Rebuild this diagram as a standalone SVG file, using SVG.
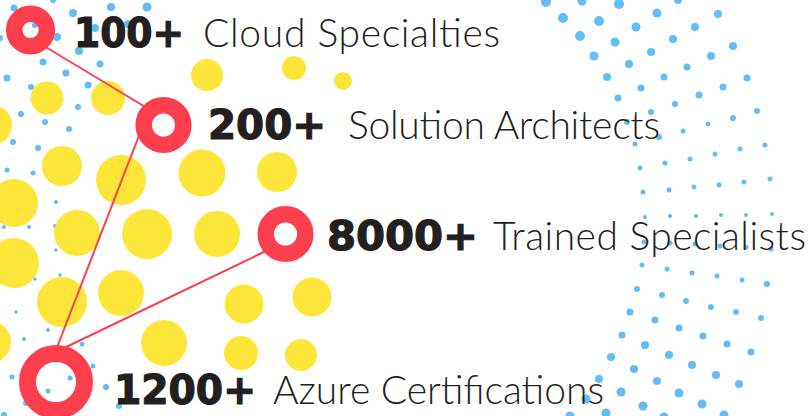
<svg xmlns="http://www.w3.org/2000/svg" width="810" height="416" viewBox="0 0 810 416">
<style>
.b{fill:#62bdf9}
.y{fill:#fee53a}
.ring{fill:none;stroke:#fd3f4d}
.edge{stroke:#fd3f4d;stroke-width:2;fill:none}
.num{font-family:"DejaVu Sans",Lato,sans-serif;font-weight:bold;font-size:40px;fill:#231f20;stroke:#231f20;stroke-width:1.2}
.lbl{font-family:Lato,"Liberation Sans",sans-serif;font-weight:300;font-size:39px;fill:#231f20}
</style>
<rect width="810" height="416" fill="#ffffff"/>
<g id="blue-dots">
<circle class="b" cx="14" cy="8" r="3.5"/><circle class="b" cx="53" cy="0" r="3"/><circle class="b" cx="73" cy="13" r="4"/><circle class="b" cx="111" cy="7" r="4"/><circle class="b" cx="147" cy="7" r="4.5"/><circle class="b" cx="95" cy="28" r="4"/><circle class="b" cx="128" cy="24" r="4"/><circle class="b" cx="57" cy="37" r="4"/><circle class="b" cx="35" cy="25" r="3"/><circle class="b" cx="79" cy="51" r="4"/><circle class="b" cx="43" cy="62" r="3.5"/><circle class="b" cx="100" cy="64" r="3.5"/><circle class="b" cx="7" cy="78" r="3.5"/><circle class="b" cx="66" cy="73" r="3.5"/><circle class="b" cx="31" cy="87" r="3"/><circle class="b" cx="88" cy="85" r="3.5"/><circle class="b" cx="78" cy="107" r="3"/><circle class="b" cx="21" cy="114" r="3"/><circle class="b" cx="45" cy="122" r="3"/><circle class="b" cx="69" cy="129" r="3"/><circle class="b" cx="0" cy="38" r="3"/>
<circle class="b" cx="13" cy="142" r="3"/><circle class="b" cx="38" cy="148" r="3"/><circle class="b" cx="7" cy="170" r="2.5"/><circle class="b" cx="33" cy="173" r="2.5"/><circle class="b" cx="56" cy="202" r="2"/><circle class="b" cx="4" cy="227" r="2"/><circle class="b" cx="29" cy="227" r="2"/><circle class="b" cx="55" cy="226" r="2"/><circle class="b" cx="56" cy="250" r="1.8"/><circle class="b" cx="60" cy="275" r="1.8"/><circle class="b" cx="35" cy="279" r="1.8"/><circle class="b" cx="16" cy="312" r="1.8"/><circle class="b" cx="48" cy="330" r="2"/><circle class="b" cx="24" cy="339" r="2"/><circle class="b" cx="82" cy="344" r="2.5"/><circle class="b" cx="93" cy="366" r="2.5"/><circle class="b" cx="12" cy="377" r="2.5"/><circle class="b" cx="70" cy="378" r="2.5"/><circle class="b" cx="48" cy="391" r="2.5"/><circle class="b" cx="106" cy="387" r="3"/><circle class="b" cx="26" cy="403" r="3"/><circle class="b" cx="119" cy="406" r="3"/><circle class="b" cx="4" cy="415" r="3"/>
<circle class="b" cx="546" cy="2" r="5"/><circle class="b" cx="582" cy="1" r="4.5"/><circle class="b" cx="619" cy="4" r="5"/><circle class="b" cx="678" cy="0" r="4"/><circle class="b" cx="563" cy="18" r="5"/><circle class="b" cx="599" cy="21" r="5"/><circle class="b" cx="657" cy="13" r="4.5"/><circle class="b" cx="718" cy="14" r="4"/><circle class="b" cx="580" cy="36" r="5"/><circle class="b" cx="615" cy="42" r="4.5"/><circle class="b" cx="636" cy="27" r="4.5"/><circle class="b" cx="695" cy="27" r="4"/><circle class="b" cx="673" cy="39" r="4"/><circle class="b" cx="733" cy="46" r="4"/><circle class="b" cx="594" cy="56" r="4.5"/><circle class="b" cx="629" cy="64" r="4"/><circle class="b" cx="651" cy="52" r="4"/><circle class="b" cx="711" cy="56" r="4"/><circle class="b" cx="687" cy="67" r="3.5"/><circle class="b" cx="607" cy="77" r="4"/><circle class="b" cx="641" cy="88" r="3.5"/><circle class="b" cx="664" cy="77" r="3.5"/><circle class="b" cx="723" cy="87" r="3.5"/><circle class="b" cx="747" cy="78" r="3.5"/><circle class="b" cx="699" cy="95" r="3.5"/><circle class="b" cx="618" cy="98" r="3.5"/><circle class="b" cx="675" cy="104" r="3"/><circle class="b" cx="651" cy="112" r="3"/><circle class="b" cx="757" cy="111" r="3"/><circle class="b" cx="733" cy="118" r="3"/><circle class="b" cx="708" cy="124" r="2.5"/><circle class="b" cx="683" cy="131" r="2.5"/><circle class="b" cx="627" cy="122" r="3"/><circle class="b" cx="659" cy="137" r="3"/><circle class="b" cx="765" cy="145" r="2.5"/><circle class="b" cx="740" cy="149" r="2.5"/><circle class="b" cx="715" cy="154" r="2.5"/><circle class="b" cx="690" cy="159" r="2.5"/><circle class="b" cx="665" cy="163" r="2.5"/><circle class="b" cx="635" cy="144" r="2.5"/><circle class="b" cx="640" cy="168" r="2.5"/><circle class="b" cx="770" cy="179" r="2.5"/><circle class="b" cx="744" cy="182" r="2.5"/><circle class="b" cx="719" cy="185" r="2.5"/><circle class="b" cx="694" cy="187" r="2.5"/><circle class="b" cx="669" cy="190" r="2.5"/><circle class="b" cx="643" cy="192" r="2.5"/>
<circle class="b" cx="645" cy="217" r="2"/><circle class="b" cx="670" cy="216" r="2"/><circle class="b" cx="696" cy="216" r="2"/><circle class="b" cx="721" cy="215" r="2"/><circle class="b" cx="746" cy="215" r="2"/><circle class="b" cx="772" cy="214" r="2"/><circle class="b" cx="644" cy="242" r="2.5"/><circle class="b" cx="670" cy="243" r="2.5"/><circle class="b" cx="695" cy="244" r="2.5"/><circle class="b" cx="720" cy="246" r="2.5"/><circle class="b" cx="746" cy="247" r="2.5"/><circle class="b" cx="771" cy="249" r="2.5"/><circle class="b" cx="642" cy="265" r="2.5"/><circle class="b" cx="667" cy="269" r="2.5"/><circle class="b" cx="692" cy="273" r="2.5"/><circle class="b" cx="717" cy="276" r="2.5"/><circle class="b" cx="742" cy="280" r="2.5"/><circle class="b" cx="767" cy="284" r="3"/><circle class="b" cx="637" cy="289" r="3"/><circle class="b" cx="662" cy="295" r="3"/><circle class="b" cx="686" cy="301" r="3"/><circle class="b" cx="711" cy="307" r="3"/><circle class="b" cx="736" cy="312" r="3"/><circle class="b" cx="761" cy="318" r="3"/><circle class="b" cx="630" cy="312" r="3.5"/><circle class="b" cx="655" cy="320" r="3.5"/><circle class="b" cx="679" cy="328" r="3.5"/><circle class="b" cx="703" cy="336" r="3.5"/><circle class="b" cx="727" cy="344" r="3.5"/><circle class="b" cx="751" cy="352" r="3.5"/><circle class="b" cx="622" cy="335" r="3.5"/><circle class="b" cx="645" cy="345" r="4"/><circle class="b" cx="669" cy="355" r="4"/><circle class="b" cx="692" cy="365" r="4"/><circle class="b" cx="716" cy="375" r="4"/><circle class="b" cx="739" cy="384" r="4"/><circle class="b" cx="611" cy="357" r="4"/><circle class="b" cx="634" cy="369" r="4"/><circle class="b" cx="657" cy="381" r="4"/><circle class="b" cx="679" cy="393" r="4.5"/><circle class="b" cx="702" cy="404" r="4.5"/><circle class="b" cx="724" cy="415" r="4.5"/><circle class="b" cx="599" cy="379" r="4"/><circle class="b" cx="621" cy="392" r="4.5"/><circle class="b" cx="643" cy="406" r="4.5"/><circle class="b" cx="664" cy="417" r="4.5"/><circle class="b" cx="586" cy="399" r="4.5"/><circle class="b" cx="606" cy="413" r="4.5"/><circle class="b" cx="570" cy="416" r="4.5"/>
</g>
<g id="yellow-dots">
<circle class="y" cx="47" cy="98" r="16.5"/><circle class="y" cx="108" cy="98" r="17"/><circle class="y" cx="207" cy="75" r="16"/><circle class="y" cx="294" cy="68" r="12"/><circle class="y" cx="343" cy="81" r="9"/><circle class="y" cx="-8" cy="125" r="20"/>
<circle class="y" cx="62" cy="166" r="20"/><circle class="y" cx="121" cy="180" r="25"/><circle class="y" cx="202" cy="173" r="23.5"/><circle class="y" cx="277" cy="172" r="20"/><circle class="y" cx="14" cy="203" r="24"/>
<circle class="y" cx="77" cy="233" r="23"/><circle class="y" cx="147" cy="234" r="25"/><circle class="y" cx="217" cy="234" r="23"/><circle class="y" cx="14" cy="263" r="25"/>
<circle class="y" cx="62" cy="302" r="25"/><circle class="y" cx="121" cy="293" r="23"/><circle class="y" cx="244" cy="304" r="19.5"/><circle class="y" cx="312" cy="297" r="19.5"/><circle class="y" cx="-10" cy="342" r="21"/>
<circle class="y" cx="164" cy="343" r="23"/><circle class="y" cx="241" cy="353" r="17"/><circle class="y" cx="301" cy="355" r="16"/>
</g>
<g id="connectors">
<line class="edge" x1="44" y1="46" x2="147" y2="108"/>
<line class="edge" x1="140" y1="133" x2="56" y2="350"/>
<line class="edge" x1="268" y1="250" x2="62" y2="349"/>
</g>
<g id="node-100">
<circle class="ring" cx="30.5" cy="30" r="16.3" stroke-width="16.5"/>
<text class="num" x="74" y="47" textLength="110" lengthAdjust="spacingAndGlyphs">100+</text>
<text class="lbl" x="203" y="47" textLength="297">Cloud Specialties</text>
</g>
<g id="node-200">
<circle class="ring" cx="163.5" cy="125" r="19.8" stroke-width="16.5"/>
<text class="num" x="208" y="139" textLength="118" lengthAdjust="spacingAndGlyphs">200+</text>
<text class="lbl" x="348" y="139" textLength="312">Solution Architects</text>
</g>
<g id="node-8000">
<circle class="ring" cx="285.5" cy="234" r="19.8" stroke-width="16.5"/>
<text class="num" x="327" y="250" textLength="151" lengthAdjust="spacingAndGlyphs">8000+</text>
<text class="lbl" x="493" y="250" textLength="313">Trained Specialists</text>
</g>
<g id="node-1200">
<circle class="ring" cx="56" cy="382" r="28.5" stroke-width="17"/>
<text class="num" x="114" y="404" textLength="142" lengthAdjust="spacingAndGlyphs">1200+</text>
<text class="lbl" x="273" y="404" textLength="331">Azure Certifications</text>
</g>
</svg>
